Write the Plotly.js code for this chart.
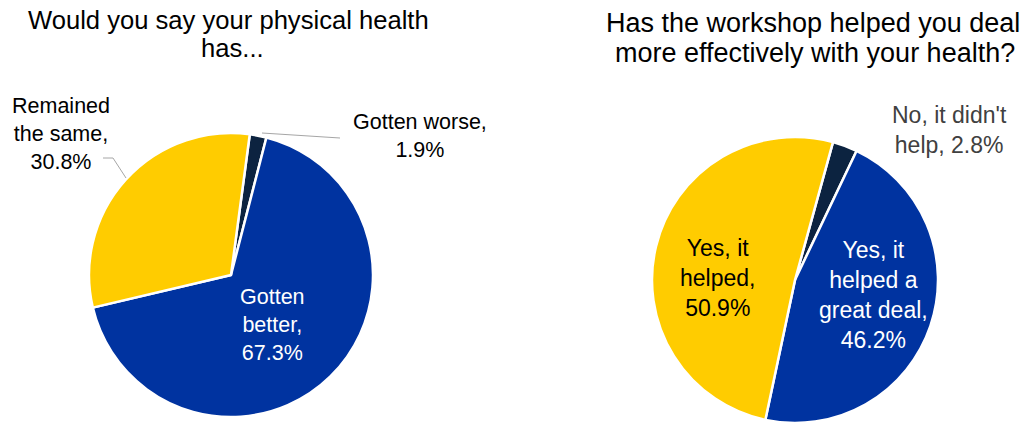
<!DOCTYPE html>
<html>
<head>
<meta charset="utf-8">
<script src="https://cdn.plot.ly/plotly-3.0.1.min.js"></script>
<style>html,body{margin:0;padding:0;background:#fff;}#chart{width:1030px;height:423px;}</style>
</head>
<body>
<div id="chart"></div>
<script>
// Data
var leftCategories = ["Gotten worse", "Gotten better", "Remained the same"];
var leftValues = [1.9, 67.3, 30.8];
var leftText = ["Gotten worse,<br>1.9%", "Gotten<br>better,<br>67.3%", "Remained<br>the same,<br>30.8%"];
var leftTitleLines = ["Would you say your physical health", "has..."];

var rightCategories = ["No, it didn't help", "Yes, it helped a great deal", "Yes, it helped"];
var rightValues = [2.8, 46.2, 50.9];
var rightText = ["No, it didn't<br>help, 2.8%", "Yes, it<br>helped a<br>great deal,<br>46.2%", "Yes, it<br>helped,<br>50.9%"];
var rightTitleLines = ["Has the workshop helped you deal", "more effectively with your health?"];

var colors = ["#0c2340", "#0033a0", "#ffcc00"];
var W = 1030, H = 423;
var FONT = "Liberation Sans, Arial, sans-serif";
function px(x) { return x / W; }
function py(y) { return 1 - y / H; }

var traces = [
  {
    type: "pie", values: leftValues, labels: leftCategories, sort: false,
    direction: "clockwise", rotation: 7.6, textinfo: "none", hoverinfo: "label+percent",
    marker: { colors: colors, line: { color: "#ffffff", width: 2.5 } },
    domain: { x: [px(89), px(373)], y: [py(417), py(133)] }, showlegend: false
  },
  {
    type: "pie", values: rightValues, labels: rightCategories, sort: false,
    direction: "clockwise", rotation: 15.4, textinfo: "none", hoverinfo: "label+percent",
    marker: { colors: colors, line: { color: "#ffffff", width: 2.5 } },
    domain: { x: [px(652), px(938)], y: [0, py(137)] }, showlegend: false
  }
];

function ann(text, x, y, size, color) {
  return { text: text, x: px(x), y: py(y), xref: "paper", yref: "paper",
    xanchor: "center", yanchor: "middle", showarrow: false, align: "center",
    font: { family: FONT, size: size, color: color } };
}

var annotations = [
  ann(leftTitleLines[0], 228, 20, 25.6, "#000000"),
  ann(leftTitleLines[1], 232, 48, 25.6, "#000000"),
  ann(rightTitleLines[0], 813, 23, 27, "#000000"),
  ann(rightTitleLines[1], 815, 53, 27, "#000000"),
  ann(leftText[0], 420, 136, 21.5, "#000000"),
  ann(leftText[1], 272, 325, 21.5, "#ffffff"),
  ann(leftText[2], 61, 134, 21.5, "#000000"),
  ann(rightText[0], 949, 130, 23, "#404040"),
  ann(rightText[1], 873, 295, 23, "#ffffff"),
  ann(rightText[2], 717, 278, 23, "#000000")
];

var shapes = [
  { type: "line", xref: "paper", yref: "paper", x0: px(262), y0: py(133), x1: px(340), y1: py(138),
    line: { color: "#a6a6a6", width: 1 } },
  { type: "path", xref: "paper", yref: "paper",
    path: "M " + px(103) + " " + py(158) + " L " + px(113) + " " + py(158) + " L " + px(126) + " " + py(178),
    line: { color: "#a6a6a6", width: 1 } }
];

var layout = {
  width: W, height: H, margin: { l: 0, r: 0, t: 0, b: 0 },
  paper_bgcolor: "#ffffff", plot_bgcolor: "#ffffff",
  annotations: annotations, shapes: shapes, showlegend: false
};

Plotly.newPlot("chart", traces, layout, { displayModeBar: false, staticPlot: true });
</script>
</body>
</html>
